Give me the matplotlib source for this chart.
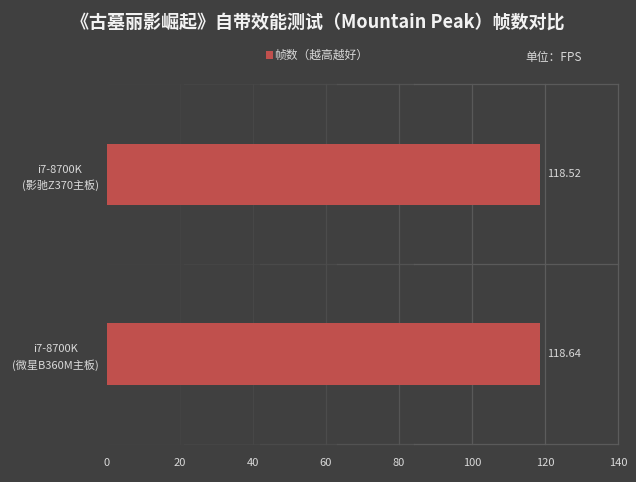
import matplotlib
matplotlib.use("Agg")
import matplotlib.pyplot as plt
from matplotlib.patches import Rectangle

plt.rcParams['font.family'] = ['Noto Sans CJK SC', 'DejaVu Sans']

# data (bottom to top)
categories = ["i7-8700K\n(微星B360M主板)", "i7-8700K\n(影驰Z370主板)"]
fps = [118.64, 118.52]
x_ticks = [0, 20, 40, 60, 80, 100, 120, 140]

BG = "#404040"
BAR = "#c0504d"
TXT = "#d9d9d9"

fig = plt.figure(figsize=(6.36, 4.82), dpi=100, facecolor=BG)
ax = fig.add_axes([0.168, 0.079, 0.804, 0.746], facecolor=BG)

y = range(len(categories))
ax.barh(y, fps, height=0.34, color=BAR, zorder=3)
for yi, v in zip(y, fps):
    ax.text(v + 2, yi, f"{v:.2f}", va="center", ha="left", color=TXT, fontsize=8)

ax.set_xlim(0, 140)
ax.set_ylim(-0.5, 1.5)
ax.set_xticks(x_ticks)
ax.set_xticklabels([str(t) for t in x_ticks])
ax.set_yticks(list(y))
ax.set_yticklabels(categories, multialignment="center", linespacing=1.5)
ax.tick_params(axis="both", length=0, colors=TXT, labelsize=8)
ax.tick_params(axis="x", pad=10)
ax.tick_params(axis="y", pad=6)

ax.grid(axis="x", color="#5c5c5c", linewidth=0.9, zorder=0)
for s in ax.spines.values():
    s.set_visible(False)

# the original grid fades out toward the left
xlines = ax.xaxis.get_gridlines()
fade = ["#404040", "#434343", "#474747", "#4c4c4c", "#555555", "#595959", "#5c5c5c", "#5c5c5c"]
for ln, c in zip(xlines, fade):
    ln.set_color(c)
    ln.set_clip_on(False)

# horizontal lines at the category borders, fading the same way
segs = [(0.0, 0.15, "#414141"), (0.15, 0.3, "#454545"), (0.3, 0.45, "#4a4a4a"),
        (0.45, 0.6, "#525252"), (0.6, 1.0, "#5a5a5a")]
for yb in [-0.5, 0.5, 1.5]:
    for a, b, c in segs:
        ax.axhline(yb, xmin=a, xmax=b, color=c, linewidth=0.9, zorder=0, clip_on=False)

fig.text(0.5, 0.955, "《古墓丽影崛起》自带效能测试（Mountain Peak）帧数对比",
         ha="center", va="center", color="#f2f2f2", fontsize=13, fontweight="bold")

fig.patches.append(Rectangle((0.418, 0.877), 0.011, 0.018, transform=fig.transFigure,
                             facecolor=BAR, edgecolor="none"))
fig.text(0.431, 0.886, "帧数（越高越好）", ha="left", va="center", color=TXT, fontsize=8.5)
fig.text(0.826, 0.881, "单位：FPS", ha="left", va="center", color=TXT, fontsize=8.5)

fig.savefig("out.png", dpi=100, facecolor=BG)
